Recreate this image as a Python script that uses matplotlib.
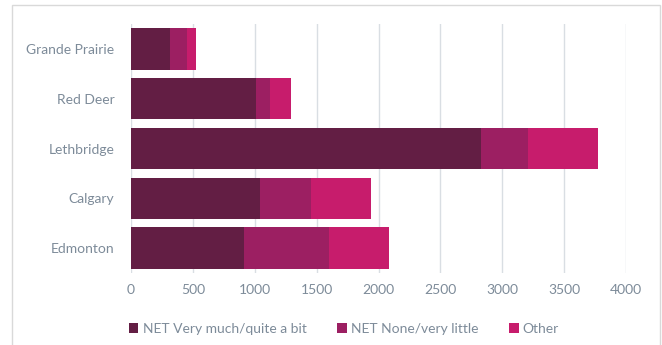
import matplotlib
matplotlib.use("Agg")
import matplotlib.pyplot as plt
from matplotlib.patches import Rectangle
import numpy as np

plt.rcParams['font.family'] = ['Lato', 'DejaVu Sans']

cities = ["Grande Prairie", "Red Deer", "Lethbridge", "Calgary", "Edmonton"]
series_names = ["NET Very much/quite a bit", "NET None/very little", "Other"]
very_much = [314, 1010, 2830, 1042, 915]
none_little = [138, 113, 378, 413, 688]
other = [72, 170, 563, 483, 483]
x_ticks = [0, 500, 1000, 1500, 2000, 2500, 3000, 3500, 4000]

colors = ["#631E44", "#9C1F62", "#C71C6C"]
text_color = "#7D8B99"

fig = plt.figure(figsize=(6.62, 3.45), dpi=100)
fig.patches.append(Rectangle((12 / 662, -0.05), (660 - 12) / 662, 1 - 5 / 345 + 0.05,
                             transform=fig.transFigure, fill=False,
                             edgecolor="#D9D9D9", linewidth=1.0))

ax = fig.add_axes([131 / 662, 1 - 273 / 345, (626 - 131) / 662, (273 - 24) / 345])

y = np.arange(len(cities))
left = np.zeros(len(cities))
for vals, name, c in zip([very_much, none_little, other], series_names, colors):
    ax.barh(y, vals, left=left, height=0.83, color=c, label=name,
            edgecolor="none", zorder=3)
    left += np.array(vals)

ax.set_ylim(len(cities) - 0.5, -0.5)
ax.set_xlim(0, 4000)
ax.set_xticks(x_ticks)
ax.set_yticks(y)
ax.set_yticklabels(cities)
ax.grid(axis="x", color="#D9DEE3", linewidth=1.0, zorder=0)
for s in ax.spines.values():
    s.set_visible(False)
ax.tick_params(axis="both", length=0, colors=text_color, labelsize=10)
ax.tick_params(axis="x", pad=8)
ax.tick_params(axis="y", pad=12)

ax.legend(loc="upper center", bbox_to_anchor=(0.43, -0.15), ncol=3, frameon=False,
          fontsize=10, labelcolor=text_color, handlelength=0.7, handleheight=0.7,
          handletextpad=0.3, columnspacing=2.2)

fig.savefig("out.png", dpi=100)
